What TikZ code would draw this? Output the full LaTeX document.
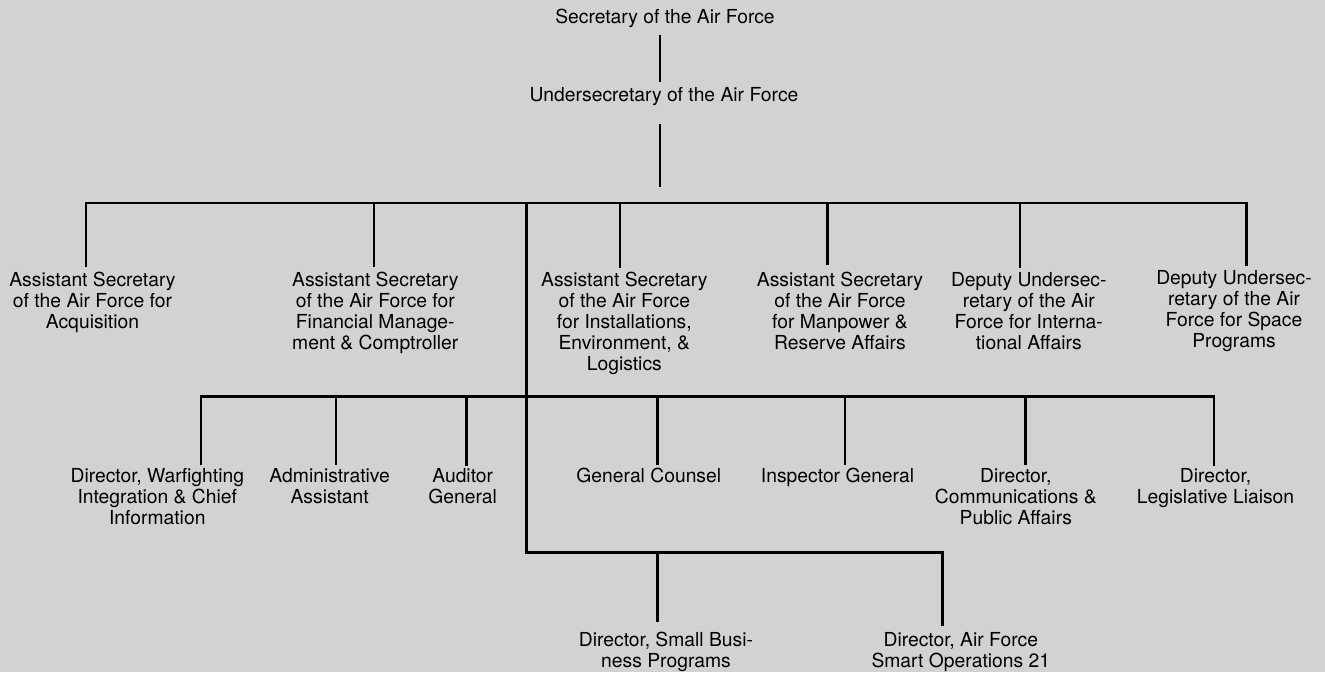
\documentclass[tikz,border=0pt]{standalone}
\usepackage{fontspec}
\setmainfont{TeX Gyre Heros}
\definecolor{bg}{RGB}{209,210,212}
\begin{document}
\begin{tikzpicture}[x=1pt,y=-1pt,
  lbl/.style={anchor=base, align=center, inner sep=0pt, font=\fontsize{19.3}{21}\selectfont},
  conn/.style={line width=2.8pt, black, line join=miter}]
\fill[bg] (0,0) rectangle (1325,672);
\useasboundingbox (0,0) rectangle (1325,672);

% nodes (placed at the baseline of their last line; lines are 21pt apart)
\node[lbl] (sec)  at (665,23.3)  {Secretary of the Air Force};
\node[lbl] (usec) at (664,101.7) {Undersecretary of the Air Force};

\node[lbl] (acq)   at (92.5,328.5)  {Assistant Secretary\\of the Air Force for\\Acquisition};
\node[lbl] (fm)    at (375.3,349.5) {Assistant Secretary\\of the Air Force for\\Financial Manage-\\ment \& Comptroller};
\node[lbl] (iel)   at (624.3,370.5) {Assistant Secretary\\of the Air Force\\for Installations,\\Environment, \&\\Logistics};
\node[lbl] (mra)   at (840,349.5)   {Assistant Secretary\\of the Air Force\\for Manpower \&\\Reserve Affairs};
\node[lbl] (intl)  at (1028.8,349.5){Deputy Undersec-\\retary of the Air\\Force for Interna-\\tional Affairs};
\node[lbl] (space) at (1234,347.5)  {Deputy Undersec-\\retary of the Air\\Force for Space\\Programs};

\node[lbl] (war)  at (157.3,524)  {Director, Warfighting\\Integration \& Chief\\Information};
\node[lbl] (adm)  at (329.7,503)  {Administrative\\Assistant};
\node[lbl] (aud)  at (462.7,503)  {Auditor\\General};
\node[lbl] (gc)   at (648.8,482)  {General Counsel};
\node[lbl] (ig)   at (837.5,482)  {Inspector General};
\node[lbl] (comm) at (1015.8,524) {Director,\\Communications \&\\Public Affairs};
\node[lbl] (leg)  at (1215.5,503) {Director,\\Legislative Liaison};

\node[lbl] (sb) at (666,667)   {Director, Small Busi-\\ness Programs};
\node[lbl] (so) at (960.8,667) {Director, Air Force\\Smart Operations 21};

% junction coordinates
\coordinate (secB)  at (660,35);
\coordinate (usecT) at (660,81.7);
\coordinate (usecB) at (660,124);
\coordinate (barT)  at (660,186.7);

\coordinate (acqT)   at (86,267);
\coordinate (fmT)    at (374,267);
\coordinate (ielT)   at (620,268);
\coordinate (mraT)   at (827.7,265);
\coordinate (intlT)  at (1020,268);
\coordinate (spaceT) at (1246.7,266);
\coordinate (trunk)  at (526.7,203);

\coordinate (warT)  at (201,465);
\coordinate (admT)  at (336,465);
\coordinate (audT)  at (466.7,466);
\coordinate (gcT)   at (657.3,465);
\coordinate (igT)   at (845,465);
\coordinate (commT) at (1025.3,465);
\coordinate (legT)  at (1214,466);

\coordinate (sbT) at (657.3,622);
\coordinate (soT) at (942.7,626);

% connectors
\draw[conn] (secB) -- (usecT);
\draw[conn] (usecB) -- (barT);

\draw[conn] (acqT) -- (acqT |- trunk) -- (spaceT |- trunk) -- (spaceT);
\foreach \n in {fmT,ielT,mraT,intlT}
  \draw[conn] (\n |- trunk) -- (\n);

\draw[conn] (warT) -- (warT |- 0,396.7) -- (legT |- 0,396.7) -- (legT);
\foreach \n in {admT,audT,gcT,igT,commT}
  \draw[conn] (\n |- 0,396.7) -- (\n);

\draw[conn] (trunk) -- (trunk |- 0,552.3) -- (soT |- 0,552.3) -- (soT);
\draw[conn] (sbT |- 0,552.3) -- (sbT);
\end{tikzpicture}
\end{document}
